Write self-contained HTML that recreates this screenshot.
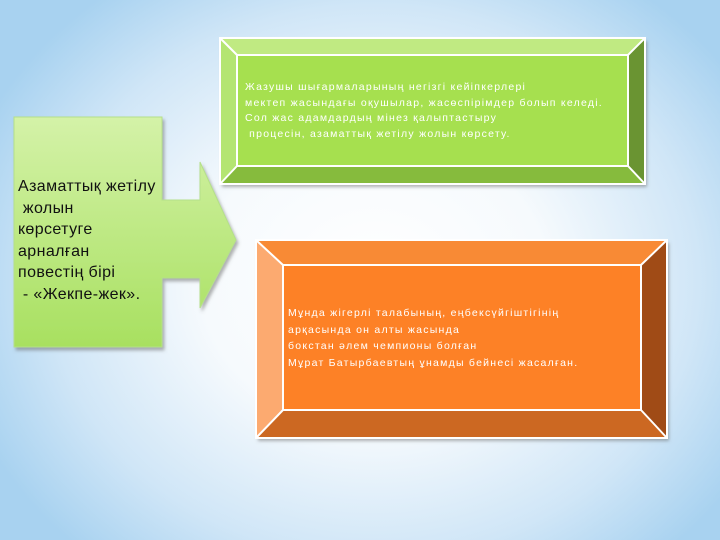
<!DOCTYPE html>
<html><head><meta charset="utf-8"><style>
html,body{margin:0;padding:0;width:720px;height:540px;overflow:hidden}
body{background:radial-gradient(ellipse 60% 68% at 52% 52%,#ffffff 0%,#f6fafd 40%,#d0e6f7 75%,#a8d2f0 100%);position:relative;font-family:"Liberation Sans",sans-serif}
svg{position:absolute;left:0;top:0}
.t{position:absolute;color:#fff;font-size:10.5px;line-height:15.5px;white-space:pre;letter-spacing:1.25px}
.l{position:absolute;left:18px;top:176px;font-size:16px;line-height:21.6px;color:#111;white-space:pre;letter-spacing:0.4px;font-family:"Liberation Sans",sans-serif}
</style></head><body>
<svg width="720" height="540">
<defs><linearGradient id="ag" x1="0" y1="0" x2="0" y2="1"><stop offset="0" stop-color="#d4f2a8"/><stop offset="1" stop-color="#a8e060"/></linearGradient>
<filter id="sh"><feDropShadow dx="2" dy="3" stdDeviation="1.5" flood-color="#666" flood-opacity="0.5"/></filter></defs>
<path d="M14 117 H162 V200 H200 V162 L236 240 L200 308 V278 H162 V347 H14 Z" fill="url(#ag)" stroke="#b5e08a" stroke-width="1" filter="url(#sh)"/>
<g filter="url(#sh)">
<rect x="220" y="38" width="425" height="146" fill="#a6e04f"/>
<polygon points="220,38 645,38 628,55 237,55" fill="#c0ea82"/>
<polygon points="220,38 237,55 237,166 220,184" fill="#b4e572"/>
<polygon points="645,38 645,184 628,166 628,55" fill="#6a9430"/>
<polygon points="220,184 645,184 628,166 237,166" fill="#86bb3c"/>
</g>
<g stroke="#fff" stroke-width="2" fill="none"><rect x="220" y="38" width="425" height="146"/><rect x="237" y="55" width="391" height="111"/><path d="M220 38L237 55M645 38L628 55M220 184L237 166M645 184L628 166"/></g>
<g filter="url(#sh)">
<rect x="256" y="240" width="411" height="198" fill="#fd8127"/>
<polygon points="256,240 667,240 641,265 283,265" fill="#f88a35"/>
<polygon points="256,240 283,265 283,410 256,438" fill="#fcaa70"/>
<polygon points="667,240 667,438 641,410 641,265" fill="#a04c15"/>
<polygon points="256,438 667,438 641,410 283,410" fill="#cc6822"/>
</g>
<g stroke="#fff" stroke-width="2" fill="none"><rect x="256" y="240" width="411" height="198"/><rect x="283" y="265" width="358" height="145"/><path d="M256 240L283 265M667 240L641 265M256 438L283 410M667 438L641 410"/></g>
</svg>
<div class="t" style="left:245px;top:80px">Жазушы шығармаларының негізгі кейіпкерлері
мектеп жасындағы оқушылар, жасөспірімдер болып келеді.
Сол жас адамдардың мінез қалыптастыру
 процесін, азаматтық жетілу жолын көрсету.</div>
<div class="t" style="left:288px;top:305px;line-height:16.5px;letter-spacing:1.25px">Мұнда жігерлі талабының, еңбексүйгіштігінің
арқасында он алты жасында
бокстан әлем чемпионы болған
Мұрат Батырбаевтың ұнамды бейнесі жасалған.</div>
<div class="l">Азаматтық жетілу
 жолын
көрсетуге
арналған
повестің бірі
 - «Жекпе-жек».</div>
</body></html>
